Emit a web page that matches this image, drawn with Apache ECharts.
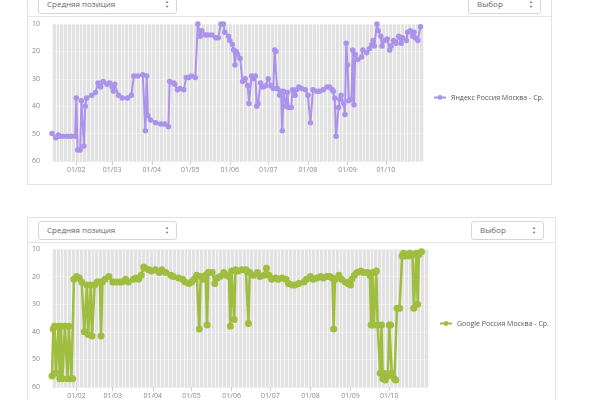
<!DOCTYPE html>
<html>
<head>
<meta charset="utf-8">
<script src="https://cdn.jsdelivr.net/npm/echarts@6/dist/echarts.min.js"></script>
<style>
  body { margin: 0; background: #fff; font-family: 'Open Sans', sans-serif; }
  #wrap { position: relative; width: 600px; height: 400px; overflow: hidden; }
  .card { position: absolute; border: 1px solid #e2e2e2; background: #fff; box-sizing: border-box; }
  .sep { position: absolute; height: 1px; background: #e6e6e6; }
  .sel { position: absolute; box-sizing: border-box; border: 1px solid #d6d6d6; border-radius: 3px;
         background: #fff; font-size: 8px; color: #666; padding-left: 8px; line-height: 16px; }
  .sel .arr { position: absolute; right: 7px; top: 3px; font-size: 4px; line-height: 5px; color: #777; }
  #chart { position: absolute; left: 0; top: 0; width: 600px; height: 400px; }
</style>
</head>
<body>
<div id="wrap">
  <!-- верхняя карточка -->
  <div class="card" style="left:27px;top:-12px;width:525px;height:197px;"></div>
  <div class="sep" style="left:28px;top:16px;width:523px;"></div>
  <div class="sel" style="left:38px;top:-5px;width:139px;height:19px;">Средняя позиция<span class="arr">▲<br>▼</span></div>
  <div class="sel" style="left:468px;top:-5px;width:73px;height:19px;">Выбор<span class="arr">▲<br>▼</span></div>

  <!-- нижняя карточка -->
  <div class="card" style="left:27px;top:217px;width:529px;height:200px;"></div>
  <div class="sep" style="left:28px;top:242px;width:527px;"></div>
  <div class="sel" style="left:38px;top:221px;width:139px;height:19px;">Средняя позиция<span class="arr">▲<br>▼</span></div>
  <div class="sel" style="left:471px;top:221px;width:73px;height:19px;">Выбор<span class="arr">▲<br>▼</span></div>

  <div id="chart"></div>
</div>
<script>
// день года для меток оси X
var tickDays = [32, 60, 91, 121, 152, 182, 213, 244, 274];
var tickLabels = ['01/02', '01/03', '01/04', '01/05', '01/06', '01/07', '01/08', '01/09', '01/10'];
var yTicks = [10, 20, 30, 40, 50, 60];

// Яндекс: день года и средняя позиция
var yandexDays = [13, 16, 18, 19, 22, 25, 28, 31, 32, 33, 35, 36, 38, 39, 40, 44, 47, 49, 51, 53,
  56, 58, 60, 61, 62, 65, 68, 72, 75, 77, 80, 84, 86, 87, 88, 90, 94, 98, 101, 104,
  105, 108, 109, 111, 113, 116, 118, 120, 122, 125, 127, 129, 130, 133, 135, 138, 141, 143, 145, 147,
  148, 151, 152, 154, 155, 156, 157, 158, 160, 162, 164, 166, 167, 169, 170, 172, 173, 174, 176, 178,
  180, 182, 184, 186, 187, 188, 189, 191, 192, 193, 194, 196, 197, 198, 200, 201, 203, 204, 206, 208,
  211, 213, 215, 217, 220, 222, 225, 228, 230, 232, 233, 234, 235, 237, 238, 239, 241, 242, 243, 244,
  245, 247, 248, 249, 250, 252, 255, 256, 259, 261, 263, 264, 265, 267, 268, 270, 271, 273, 275, 277,
  278, 280, 282, 284, 286, 287, 290, 291, 293, 295, 296, 297, 299, 301];
var yandexPos = [50, 51.5, 50.5, 51, 51, 51, 51, 51, 37, 56, 56, 38, 54.5, 40, 37, 36, 35, 31.5, 33, 31,
  32, 31.5, 33, 34.5, 32, 36, 37, 37, 36, 29, 29, 28.5, 49, 29, 43.5, 45, 46, 46.5, 46.5, 47.5,
  31, 31.5, 32, 34, 33.5, 34, 29.5, 29.5, 29, 29.5, 10, 14.5, 12.5, 14, 14, 14, 15, 15, 10, 10,
  13, 14.5, 16, 17.5, 19.5, 25, 20, 21, 22.5, 31, 30, 32.5, 39, 29, 30, 29, 40, 39, 31.5, 33,
  32.5, 30, 32.5, 33.5, 19.5, 20, 33.5, 36, 34.5, 49, 34.5, 40, 35, 40.5, 40.5, 34, 36, 34, 33, 33.5,
  34, 36, 46, 34, 34.5, 34.5, 34, 33, 33, 34, 34.5, 37, 51, 40.5, 37.5, 36, 39, 43, 17, 25,
  38, 37.5, 19.5, 39.5, 21, 23, 22, 19.5, 20.5, 19, 17.5, 16, 18, 10, 12.5, 14.5, 18, 16, 15.5, 19.5,
  18, 16, 17, 14.5, 17, 15, 16, 13, 12.5, 14.5, 13, 15, 16, 11];

// Google: день года и средняя позиция
var googleDays = [13, 14, 15, 16, 18, 19, 20, 21, 23, 25, 26, 28, 29, 30, 32, 34, 36, 38, 40, 41,
  43, 44, 46, 48, 50, 51, 52, 54, 57, 60, 62, 65, 67, 70, 72, 76, 78, 80, 82, 84,
  85, 88, 90, 93, 96, 98, 101, 105, 107, 111, 114, 116, 119, 121, 123, 125, 127, 128, 130, 132,
  133, 134, 137, 139, 141, 143, 146, 148, 150, 151, 152, 154, 155, 157, 160, 163, 164, 165, 166, 169,
  172, 174, 177, 179, 181, 183, 186, 188, 191, 194, 196, 199, 201, 204, 208, 210, 213, 215, 218, 221,
  223, 226, 228, 230, 231, 232, 235, 237, 240, 242, 244, 245, 247, 249, 252, 254, 257, 259, 260, 261,
  262, 264, 265, 267, 268, 269, 270, 271, 273, 274, 275, 276, 278, 279, 280, 282, 284, 285, 286, 288,
  289, 290, 292, 293, 295, 296, 297, 299];
var googlePos = [56, 39, 38, 55, 38, 57, 38, 57, 38, 57, 38, 57, 57, 21, 20, 20.5, 22, 40, 23, 41,
  23, 41.5, 23, 22, 22, 41.5, 22, 21, 20, 22, 22, 22, 22, 21, 22, 21, 20.5, 21, 19.5, 16.5,
  17, 17.5, 18, 17.5, 18.5, 17.5, 18.5, 19.5, 20, 20.5, 21, 22, 22.5, 22, 21, 19.5, 39, 20, 21, 19.5,
  37.5, 18.5, 18.5, 22.5, 20.5, 20, 18.5, 19.5, 20, 38, 18, 35.5, 17.5, 18, 17.5, 17.5, 18, 37, 18.5, 19.5,
  18.5, 20, 19.5, 17, 19.5, 21, 20.5, 21, 20.5, 21, 22.5, 23, 23, 22.5, 22, 21, 20, 21, 20.5, 20,
  20.5, 20, 20, 20.5, 39, 21, 19.5, 21, 22, 22.5, 23, 21, 19.5, 18.5, 18, 18.5, 18.5, 19.5, 37.5, 18.5,
  37.5, 18, 37.5, 55, 37.5, 57, 55, 57.5, 56, 37.5, 37.5, 55, 57, 57.5, 31.5, 31.5, 12.5, 11.5, 12.5, 12,
  12.5, 11.5, 12, 31.5, 11.5, 30, 12, 11];

var yandexName = 'Яндекс Россия Москва - Ср.';
var googleName = 'Google Россия Москва - Ср.';
var purple = '#ab92ea';
var green = '#9fbd3e';

function pairs(days, vals) {
  return days.map(function (d, i) { return [d, vals[i]]; });
}

function dateAxis(grid, max) {
  return {
    type: 'value', gridIndex: grid, min: 13, max: max,
    axisLine: { show: false },
    splitLine: { show: false },
    axisTick: { show: true, customValues: tickDays, length: 4, lineStyle: { color: '#d0d0d0' } },
    axisLabel: {
      customValues: tickDays, color: '#8a8a8a', fontSize: 7, margin: 5,
      formatter: function (v) { return tickLabels[tickDays.indexOf(v)]; }
    }
  };
}

// вертикальные белые полосы фона
function stripeAxis(grid) {
  return {
    type: 'value', gridIndex: grid, min: 12, max: 303, interval: 3,
    axisLine: { show: false }, axisTick: { show: false }, axisLabel: { show: false },
    splitLine: { show: true, lineStyle: { color: '#f7f7f7', width: 1 } }
  };
}

function posAxis(grid) {
  return {
    type: 'value', gridIndex: grid, min: 10, max: 60, interval: 10, inverse: true,
    axisLine: { show: false }, axisTick: { show: false },
    axisLabel: { color: '#8a8a8a', fontSize: 7, margin: 12,
      customValues: yTicks },
    splitLine: { show: true, lineStyle: { color: '#ededed', width: 1 } }
  };
}

var myChart = echarts.init(document.getElementById('chart'));
var option = {
  animation: false,
  textStyle: { fontFamily: 'Open Sans' },
  grid: [
    { left: 52, top: 24, width: 371, height: 137, show: true, backgroundColor: '#e2e2e2', borderWidth: 0 },
    { left: 52, top: 249, width: 376, height: 138, show: true, backgroundColor: '#e2e2e2', borderWidth: 0 }
  ],
  xAxis: [dateAxis(0, 303), dateAxis(1, 304), stripeAxis(0), stripeAxis(1)],
  yAxis: [posAxis(0), posAxis(1)],
  legend: [
    { data: [yandexName], left: 433, top: 94, padding: 0, itemWidth: 12, itemHeight: 6,
      textStyle: { fontSize: 7, color: '#555' } },
    { data: [googleName], left: 439, top: 320, padding: 0, itemWidth: 12, itemHeight: 6,
      textStyle: { fontSize: 7, color: '#555' } }
  ],
  series: [
    {
      name: yandexName, type: 'line', xAxisIndex: 0, yAxisIndex: 0,
      data: pairs(yandexDays, yandexPos),
      symbol: 'circle', symbolSize: 5.5, showAllSymbol: true,
      itemStyle: { color: purple },
      lineStyle: { color: purple, width: 2 }
    },
    {
      name: googleName, type: 'line', xAxisIndex: 1, yAxisIndex: 1,
      data: pairs(googleDays, googlePos),
      symbol: 'circle', symbolSize: 7, showAllSymbol: true,
      itemStyle: { color: green },
      lineStyle: { color: green, width: 2.5 }
    }
  ]
};
myChart.setOption(option);
</script>
</body>
</html>
